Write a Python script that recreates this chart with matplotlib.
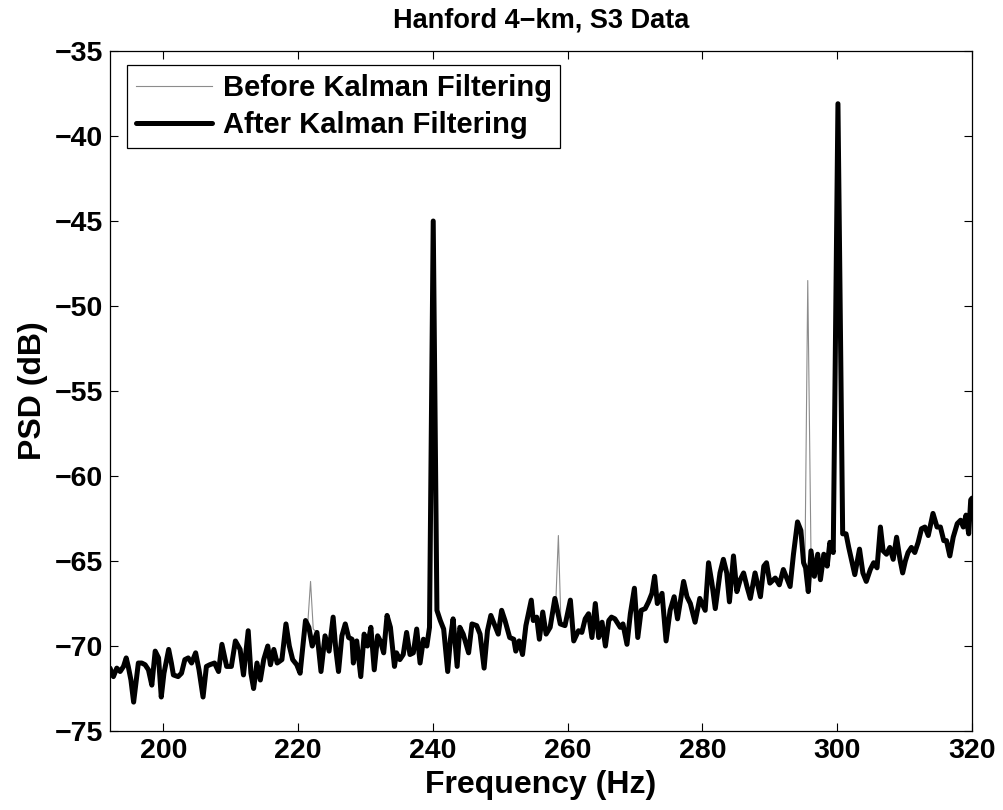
import numpy as np
import matplotlib
matplotlib.use('Agg')
import matplotlib.pyplot as plt

plt.rcParams['font.family'] = ['Liberation Sans', 'DejaVu Sans']
plt.rcParams['font.weight'] = 'bold'

# ================== Data ==================
after_freq = [
  192.1, 192.6, 193.1, 193.6, 194.1, 194.5, 194.8, 195.2, 195.6, 196.0,
  196.3, 196.8, 197.3, 197.8, 198.3, 198.8, 199.3, 199.7, 200.1, 200.8,
  201.2, 201.5, 202.2, 202.7, 203.2, 203.7, 204.2, 204.8, 205.3, 205.9,
  206.4, 206.9, 207.6, 208.2, 208.7, 209.4, 210.1, 210.7, 211.4, 211.9,
  212.6, 213.0, 213.4, 213.9, 214.4, 214.9, 215.5, 215.9, 216.4, 216.9,
  217.6, 218.2, 218.7, 219.2, 219.8, 220.3, 221.1, 221.6, 222.1, 222.8,
  223.4, 224.0, 224.6, 225.2, 225.6, 226.0, 226.5, 227.0, 227.5, 228.0,
  228.2, 228.7, 229.3, 229.8, 230.3, 230.8, 231.3, 231.8, 232.2, 232.7,
  233.2, 233.7, 234.3, 234.6, 235.1, 235.6, 236.1, 236.6, 237.1, 237.6,
  238.1, 238.6, 239.1, 239.5, 240.05, 240.6, 241.1, 241.6, 242.2, 242.6,
  243.0, 243.6, 244.0, 244.5, 245.3, 245.8, 246.5, 247.0, 247.6, 248.1,
  248.6, 249.2, 249.7, 250.2, 250.7, 251.4, 252.0, 252.3, 252.8, 253.3,
  253.8, 254.6, 254.9, 255.4, 255.8, 256.3, 256.8, 257.4, 258.1, 258.9,
  259.6, 260.4, 260.9, 261.6, 262.1, 262.6, 263.1, 263.6, 264.1, 264.6,
  265.1, 265.6, 266.1, 266.5, 267.0, 267.8, 268.2, 268.8, 269.3, 269.9,
  270.4, 270.9, 271.5, 272.0, 272.5, 272.9, 273.3, 274.0, 274.6, 275.2,
  275.8, 276.3, 277.2, 277.7, 278.2, 278.9, 279.6, 280.4, 280.9, 281.4,
  281.9, 282.6, 283.1, 283.6, 284.0, 284.6, 285.1, 285.6, 286.1, 286.6,
  287.1, 287.8, 288.6, 289.1, 289.5, 290.0, 290.8, 291.4, 292.0, 292.5,
  293.0, 293.5, 294.1, 294.6, 295.0, 295.3, 295.7, 296.1, 296.6, 297.1,
  297.5, 298.0, 298.5, 298.9, 299.4, 300.1, 300.8, 301.3, 301.7, 302.1,
  302.6, 303.3, 303.8, 304.3, 304.9, 305.4, 305.9, 306.4, 306.8, 307.3,
  307.8, 308.3, 308.8, 309.3, 309.7, 310.1, 310.5, 311.0, 311.5, 312.0,
  312.5, 313.0, 313.5, 314.2, 314.8, 315.3, 315.8, 316.2, 316.7, 317.2,
  317.8, 318.3, 318.7, 319.1, 319.5, 319.8, 320.0]
after_db = [
  -71.3, -71.8, -71.3, -71.5, -71.2, -70.7, -71.2, -72.0, -73.3, -72.0,
  -71.0, -71.0, -71.1, -71.4, -72.3, -70.3, -70.7, -73.0, -71.6, -70.2,
  -71.0, -71.7, -71.8, -71.6, -70.8, -70.7, -71.0, -70.4, -71.4, -73.0,
  -71.2, -71.1, -71.0, -71.5, -69.9, -71.2, -71.2, -69.7, -70.2, -71.7,
  -69.1, -71.6, -72.5, -71.0, -72.0, -70.8, -70.0, -71.1, -70.2, -71.0,
  -70.8, -68.7, -70.0, -70.8, -71.1, -71.6, -68.5, -68.9, -70.0, -69.2,
  -71.5, -69.4, -70.3, -68.3, -70.2, -71.5, -69.4, -68.7, -69.5, -69.6,
  -71.0, -69.7, -71.8, -69.3, -70.0, -68.9, -71.4, -69.4, -69.7, -70.4,
  -68.2, -68.9, -71.2, -70.4, -70.8, -70.5, -69.2, -70.5, -70.4, -69.0,
  -71.0, -69.6, -70.0, -68.9, -45.0, -67.9, -68.5, -69.0, -71.5, -69.6,
  -68.4, -71.2, -68.9, -69.3, -70.4, -68.7, -68.8, -69.3, -71.3, -69.1,
  -68.2, -68.8, -69.3, -67.9, -68.5, -69.5, -69.6, -70.3, -69.7, -70.5,
  -68.8, -67.3, -68.5, -68.3, -69.6, -68.0, -69.3, -68.9, -67.2, -68.7,
  -68.8, -67.3, -69.7, -69.1, -69.2, -68.4, -68.1, -69.5, -67.5, -69.5,
  -68.6, -70.0, -68.5, -68.3, -68.4, -68.9, -68.7, -69.9, -68.1, -66.6,
  -69.5, -67.9, -67.8, -67.4, -66.9, -65.9, -67.5, -66.9, -69.7, -67.9,
  -67.1, -68.4, -66.2, -67.1, -67.5, -68.6, -67.2, -67.9, -65.1, -66.3,
  -67.8, -65.7, -64.9, -65.7, -67.4, -64.7, -66.8, -66.1, -65.7, -66.5,
  -67.2, -65.7, -67.1, -65.3, -65.1, -66.3, -66.0, -66.4, -65.5, -66.0,
  -66.5, -64.6, -62.7, -63.2, -65.1, -65.4, -66.8, -64.4, -65.9, -64.6,
  -66.1, -64.6, -65.3, -63.9, -64.5, -38.1, -63.4, -63.4, -64.2, -64.9,
  -65.8, -64.3, -65.7, -66.2, -65.5, -65.1, -65.4, -63.0, -64.4, -64.6,
  -64.2, -64.9, -63.6, -64.9, -65.7, -65.0, -64.5, -64.2, -64.5, -63.9,
  -63.1, -63.0, -63.5, -62.2, -63.0, -63.0, -63.8, -63.8, -64.7, -63.6,
  -62.8, -62.6, -63.0, -62.3, -63.4, -61.4, -61.3]

# lines that were removed by the filter (only in the "before" trace)
spike_freq = [[221.45, 221.85, 222.25],
              [258.25, 258.62, 259.0],
              [295.2, 295.62, 296.1]]
spike_db = [[-68.6, -66.2, -69.0],
            [-67.3, -63.5, -68.6],
            [-65.4, -48.5, -64.6]]

after_freq = np.array(after_freq)
after_db = np.array(after_db)

keep = np.ones(len(after_freq), dtype=bool)
for sf in spike_freq:
  keep &= ~((after_freq >= sf[0]) & (after_freq <= sf[-1]))
before_freq = np.concatenate([after_freq[keep]] + [np.array(s) for s in spike_freq])
before_db = np.concatenate([after_db[keep]] + [np.array(s) for s in spike_db])
order = np.argsort(before_freq)
before_freq = before_freq[order]
before_db = before_db[order]

# ================== Plot ==================
fig = plt.figure(figsize=(10.04, 8.10), dpi=100)
ax = fig.add_axes([0.1096, 0.0975, 0.8586, 0.8395])

ax.plot(before_freq, before_db, color='0.55', lw=0.8, label='Before Kalman Filtering')
ax.plot(after_freq, after_db, color='black', lw=3.6, label='After Kalman Filtering',
        solid_joinstyle='round', solid_capstyle='round')

ax.set_xlim(192.1, 320)
ax.set_ylim(-75, -35)
ax.set_xticks(np.arange(200, 321, 20))
ax.set_yticks(np.arange(-75, -34, 5))
ax.tick_params(direction='in', top=True, right=True, length=5.5, width=0.8,
               labelsize=20.5, pad=5)
for lab in ax.get_xticklabels() + ax.get_yticklabels():
  lab.set_fontweight('bold')
for s in ax.spines.values():
  s.set_linewidth(0.9)

ax.set_xlabel('Frequency (Hz)', fontsize=23, fontweight='bold', labelpad=4)
ax.set_ylabel('PSD (dB)', fontsize=23, fontweight='bold', labelpad=5)
ax.set_title('Hanford 4\u2212km, S3 Data', fontsize=19.5, fontweight='bold', pad=17)

leg = ax.legend(loc='upper left', bbox_to_anchor=(0.0197, 0.979), borderaxespad=0,
                fancybox=False, edgecolor='black', framealpha=1,
                prop={'weight': 'bold', 'size': 21}, handlelength=2.6,
                borderpad=0.3, labelspacing=0.3, handletextpad=0.38)
leg.get_frame().set_linewidth(0.9)

plt.savefig('out.png', dpi=100)
